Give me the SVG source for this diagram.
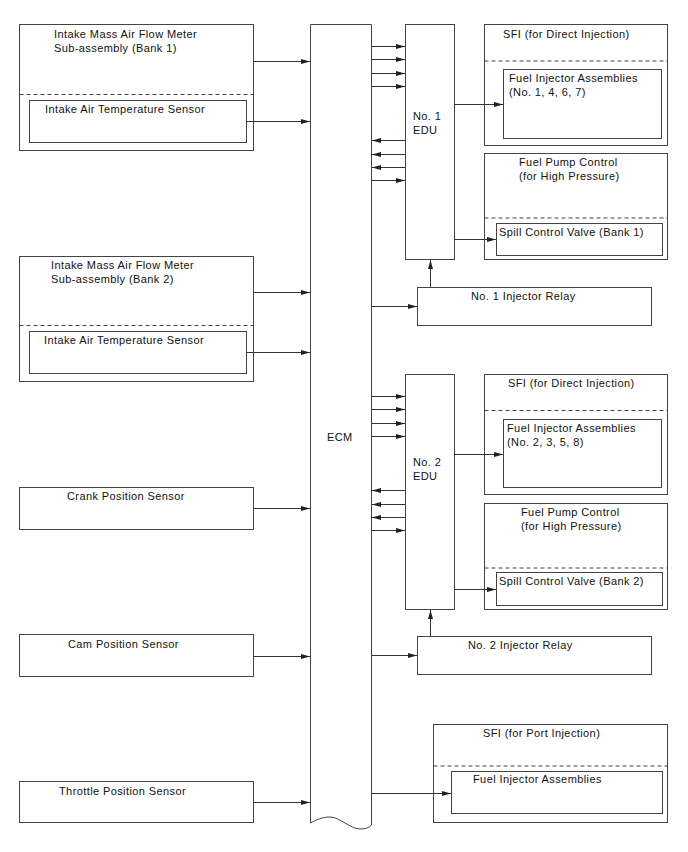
<svg xmlns="http://www.w3.org/2000/svg" width="688" height="852" viewBox="0 0 688 852">
<style>
.b{fill:#fff;stroke:#444;stroke-width:1}
.d{stroke:#444;stroke-width:1;stroke-dasharray:4,3;fill:none}
.t{font-family:"Liberation Sans",Arial,sans-serif;font-size:11px;letter-spacing:0.4px;fill:#111}
.c{stroke:#333;stroke-width:1;fill:none;marker-end:url(#ah)}
</style>
<defs>
<marker id="ah" markerUnits="userSpaceOnUse" markerWidth="10" markerHeight="6" refX="9" refY="2.5" orient="auto">
<path d="M0,0 L9,2.5 L0,5 z" fill="#222"/>
</marker>
</defs>
<rect width="688" height="852" fill="#fff"/>

<g id="maf1">
<rect class="b" x="19.5" y="24.5" width="234" height="126"/>
<line class="d" x1="19.5" y1="94.5" x2="253.5" y2="94.5"/>
<text class="t" x="54" y="37.5">Intake Mass Air Flow Meter</text>
<text class="t" x="54" y="51.5">Sub-assembly (Bank 1)</text>
</g>
<g id="iat1">
<rect class="b" x="29.5" y="100.5" width="217" height="42"/>
<text class="t" x="45" y="112.5">Intake Air Temperature Sensor</text>
</g>

<g id="maf2">
<rect class="b" x="19.5" y="256.5" width="234" height="125"/>
<line class="d" x1="19.5" y1="325.5" x2="253.5" y2="325.5"/>
<text class="t" x="51" y="268.5">Intake Mass Air Flow Meter</text>
<text class="t" x="51" y="282.5">Sub-assembly (Bank 2)</text>
</g>
<g id="iat2">
<rect class="b" x="29.5" y="331.5" width="217" height="42"/>
<text class="t" x="44" y="343.5">Intake Air Temperature Sensor</text>
</g>

<g id="crank">
<rect class="b" x="19.5" y="487.5" width="234" height="42"/>
<text class="t" x="67" y="499.5">Crank Position Sensor</text>
</g>
<g id="cam">
<rect class="b" x="19.5" y="634.5" width="234" height="42"/>
<text class="t" x="68" y="647.5">Cam Position Sensor</text>
</g>
<g id="throttle">
<rect class="b" x="19.5" y="781.5" width="234" height="41"/>
<text class="t" x="59" y="794.5">Throttle Position Sensor</text>
</g>

<g id="ecm">
<path class="b" d="M310.5,24.5 H371.5 V825 C369,828 365,829 360,829 C350,829 340,817 330,817 C322,817 316,820 310.5,823 Z"/>
<text class="t" x="327" y="441">ECM</text>
</g>

<g id="edu1">
<rect class="b" x="405.5" y="24.5" width="49" height="235"/>
<text class="t" x="413" y="120">No. 1</text>
<text class="t" x="413" y="134">EDU</text>
</g>
<g id="sfi1">
<rect class="b" x="484.5" y="24.5" width="183" height="121"/>
<line class="d" x1="484.5" y1="61" x2="667.5" y2="61"/>
<text class="t" x="503" y="37.5">SFI (for Direct Injection)</text>
</g>
<g id="inj1">
<rect class="b" x="503.5" y="69.5" width="158" height="69"/>
<text class="t" x="509" y="82">Fuel Injector Assemblies</text>
<text class="t" x="509" y="96">(No. 1, 4, 6, 7)</text>
</g>
<g id="fpc1">
<rect class="b" x="484.5" y="153.5" width="183" height="106"/>
<line class="d" x1="484.5" y1="218" x2="667.5" y2="218"/>
<text class="t" x="519" y="166">Fuel Pump Control</text>
<text class="t" x="519" y="179.5">(for High Pressure)</text>
</g>
<g id="scv1">
<rect class="b" x="496.5" y="223.5" width="166" height="32"/>
<text class="t" x="499" y="235.5">Spill Control Valve (Bank 1)</text>
</g>
<g id="relay1">
<rect class="b" x="417.5" y="287.5" width="234" height="38"/>
<text class="t" x="471" y="299.5">No. 1 Injector Relay</text>
</g>

<g id="edu2">
<rect class="b" x="405.5" y="374.5" width="49" height="235"/>
<text class="t" x="413" y="466">No. 2</text>
<text class="t" x="413" y="480">EDU</text>
</g>
<g id="sfi2">
<rect class="b" x="484.5" y="374.5" width="183" height="120"/>
<line class="d" x1="484.5" y1="410.5" x2="667.5" y2="410.5"/>
<text class="t" x="508" y="387">SFI (for Direct Injection)</text>
</g>
<g id="inj2">
<rect class="b" x="503.5" y="419.5" width="158" height="68"/>
<text class="t" x="507" y="432">Fuel Injector Assemblies</text>
<text class="t" x="507" y="446">(No. 2, 3, 5, 8)</text>
</g>
<g id="fpc2">
<rect class="b" x="484.5" y="503.5" width="183" height="106"/>
<line class="d" x1="484.5" y1="568" x2="667.5" y2="568"/>
<text class="t" x="521" y="516">Fuel Pump Control</text>
<text class="t" x="521" y="529.5">(for High Pressure)</text>
</g>
<g id="scv2">
<rect class="b" x="496.5" y="572.5" width="166" height="33"/>
<text class="t" x="499" y="585">Spill Control Valve (Bank 2)</text>
</g>
<g id="relay2">
<rect class="b" x="417.5" y="636.5" width="234" height="38"/>
<text class="t" x="468" y="649">No. 2 Injector Relay</text>
</g>

<g id="sfiport">
<rect class="b" x="433.5" y="724.5" width="234" height="98"/>
<line class="d" x1="433.5" y1="766" x2="667.5" y2="766"/>
<text class="t" x="483" y="737">SFI (for Port Injection)</text>
</g>
<g id="injport">
<rect class="b" x="451.5" y="771.5" width="211" height="42"/>
<text class="t" x="473" y="783">Fuel Injector Assemblies</text>
</g>

<g id="connectors">
<path class="c" d="M254,61.5 H310"/>
<path class="c" d="M247,121.5 H310"/>
<path class="c" d="M254,292.5 H310"/>
<path class="c" d="M247,352.5 H310"/>
<path class="c" d="M254,508.5 H310"/>
<path class="c" d="M254,656.5 H310"/>
<path class="c" d="M254,802.5 H310"/>

<path class="c" d="M372,46.5 H405"/>
<path class="c" d="M372,59.5 H405"/>
<path class="c" d="M372,73.5 H405"/>
<path class="c" d="M372,86.5 H405"/>
<path class="c" d="M405,140.5 H372"/>
<path class="c" d="M405,154.5 H372"/>
<path class="c" d="M405,167.5 H372"/>
<path class="c" d="M372,180.5 H405"/>
<path class="c" d="M454,104.5 H503"/>
<path class="c" d="M454,239.5 H496"/>
<path class="c" d="M430.5,287 V260"/>
<path class="c" d="M372,306.5 H417"/>

<path class="c" d="M372,396.5 H405"/>
<path class="c" d="M372,409.5 H405"/>
<path class="c" d="M372,423.5 H405"/>
<path class="c" d="M372,436.5 H405"/>
<path class="c" d="M405,490.5 H372"/>
<path class="c" d="M405,504.5 H372"/>
<path class="c" d="M405,517.5 H372"/>
<path class="c" d="M372,530.5 H405"/>
<path class="c" d="M454,454.5 H503"/>
<path class="c" d="M454,589.5 H496"/>
<path class="c" d="M430.5,636 V610"/>
<path class="c" d="M372,655.5 H417"/>

<path class="c" d="M372,793.5 H451"/>
</g>
</svg>
